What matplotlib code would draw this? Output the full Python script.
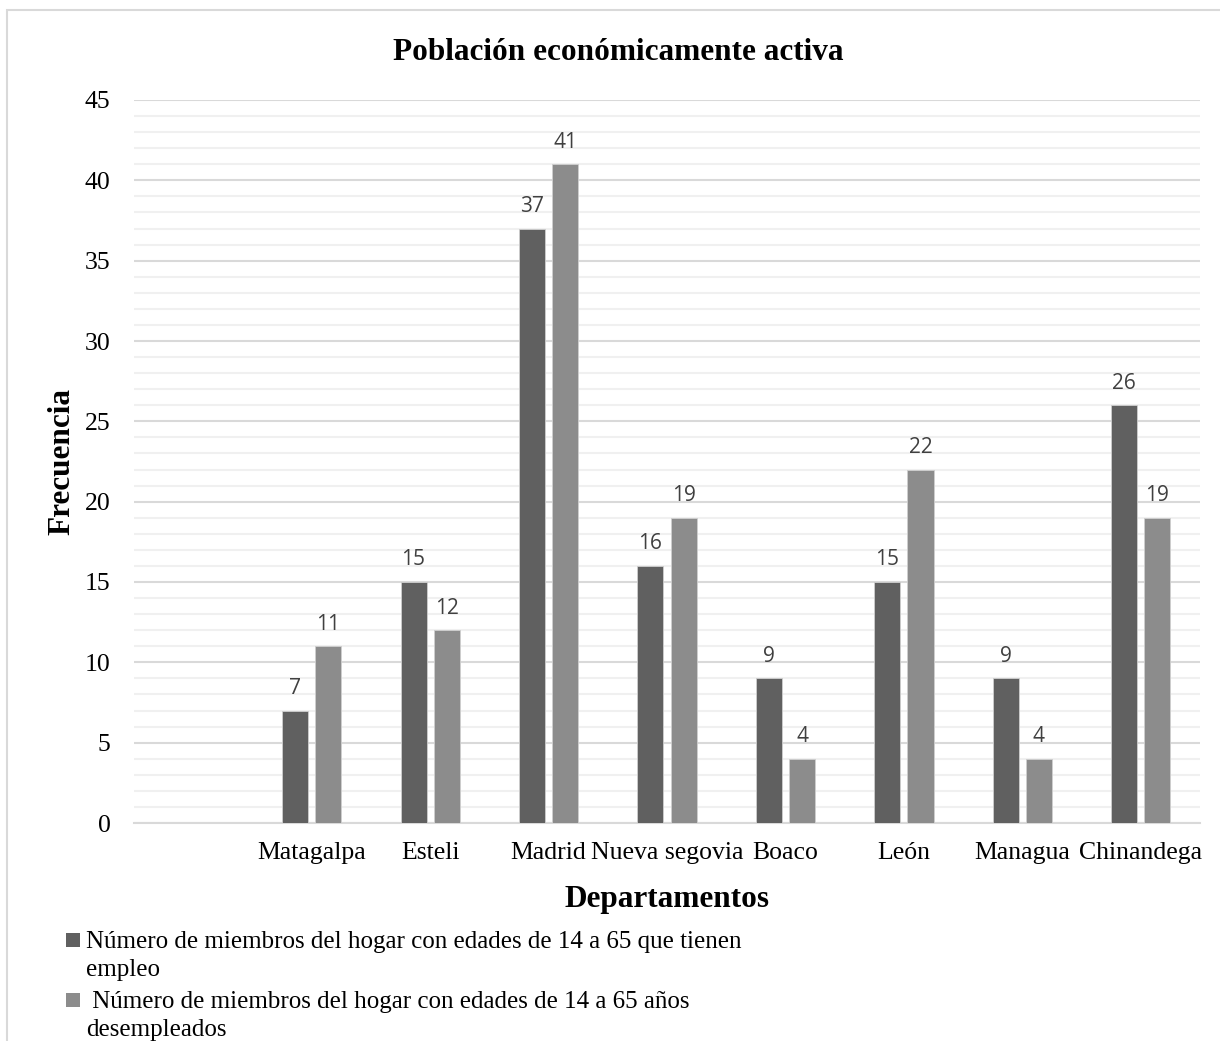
import matplotlib
matplotlib.use("Agg")
import matplotlib.pyplot as plt
import numpy as np
from matplotlib.patches import Rectangle
from matplotlib.ticker import MultipleLocator

categories = ["", "Matagalpa", "Esteli", "Madrid", "Nueva segovia", "Boaco", "León", "Managua", "Chinandega"]
empleo = [np.nan, 7, 15, 37, 16, 9, 15, 9, 26]
desempleo = [np.nan, 11, 12, 41, 19, 4, 22, 4, 19]
series_labels = ["Número de miembros del hogar con edades de 14 a 65 que tienen\nempleo",
                 " Número de miembros del hogar con edades de 14 a 65 años\ndesempleados"]
colors = ["#606060", "#8c8c8c"]

serif = "Liberation Serif"
sans = "Open Sans"

W, H = 1220, 1041
fig = plt.figure(figsize=(W / 100, H / 100), dpi=100)
ax = fig.add_axes([134 / W, 1 - 823 / H, (1200 - 134) / W, (823 - 100) / H])

x = np.arange(len(categories))
w = 0.22
off = 0.14
for vals, o, c in [(empleo, -off, colors[0]), (desempleo, off, colors[1])]:
    v = np.array(vals, dtype=float)
    ax.bar(x + o, np.nan_to_num(v), width=w, color=c, edgecolor="#cfcfcf", linewidth=0.6, zorder=3)
    for xi, vi in zip(x + o, v):
        if not np.isnan(vi):
            ax.annotate(f"{int(vi)}", (xi, vi), xytext=(0, 12), textcoords="offset points",
                        ha="center", va="baseline", fontsize=15, color="#404040", family=sans)

ax.set_xlim(-0.5, len(categories) - 0.5)
ax.set_ylim(0, 45)
ax.yaxis.set_major_locator(MultipleLocator(5))
ax.yaxis.set_minor_locator(MultipleLocator(1))
ax.grid(axis="y", which="minor", color="#f0f0f0", linewidth=1.5, zorder=0)
ax.grid(axis="y", which="major", color="#d9d9d9", linewidth=1.5, zorder=1)
ax.set_axisbelow(True)
for s in ["top", "right", "left"]:
    ax.spines[s].set_visible(False)
ax.spines["bottom"].set_color("#d9d9d9")
ax.spines["bottom"].set_linewidth(1.5)
ax.tick_params(axis="both", which="both", length=0)
ax.tick_params(axis="y", pad=17)
ax.tick_params(axis="x", pad=14)
ax.set_xticks(x)
ax.set_xticklabels(categories, fontsize=18.5, family=serif)
for lab in ax.get_yticklabels():
    lab.set_family(serif)
    lab.set_fontsize(18.5)

fig.text(618 / W, 1 - 53 / H, "Población económicamente activa", fontsize=22.5, fontweight="bold",
         family=serif, ha="center", va="center")
ax.set_xlabel("Departamentos", fontsize=22.5, fontweight="bold", family=serif, labelpad=15)
ax.set_ylabel("Frecuencia", fontsize=22.5, fontweight="bold", family=serif, labelpad=6)

# legend (bottom-left, marker aligned with first line of each label)
leg_tops = [933, 993]
for lbl, c, top in zip(series_labels, colors, leg_tops):
    fig.add_artist(Rectangle((66 / W, 1 - (top + 14) / H), 14 / W, 14 / H, transform=fig.transFigure,
                             facecolor=c, edgecolor="none"))
    fig.text(86 / W, 1 - (top - 2) / H, lbl, fontsize=18, family=serif, ha="left", va="top",
             linespacing=1.38)

fig.add_artist(Rectangle((7 / W, -0.01), 1.02, 1 - 10 / H + 0.01, transform=fig.transFigure,
                         fill=False, edgecolor="#d9d9d9", linewidth=1.5))

fig.savefig("out.png", dpi=100)
